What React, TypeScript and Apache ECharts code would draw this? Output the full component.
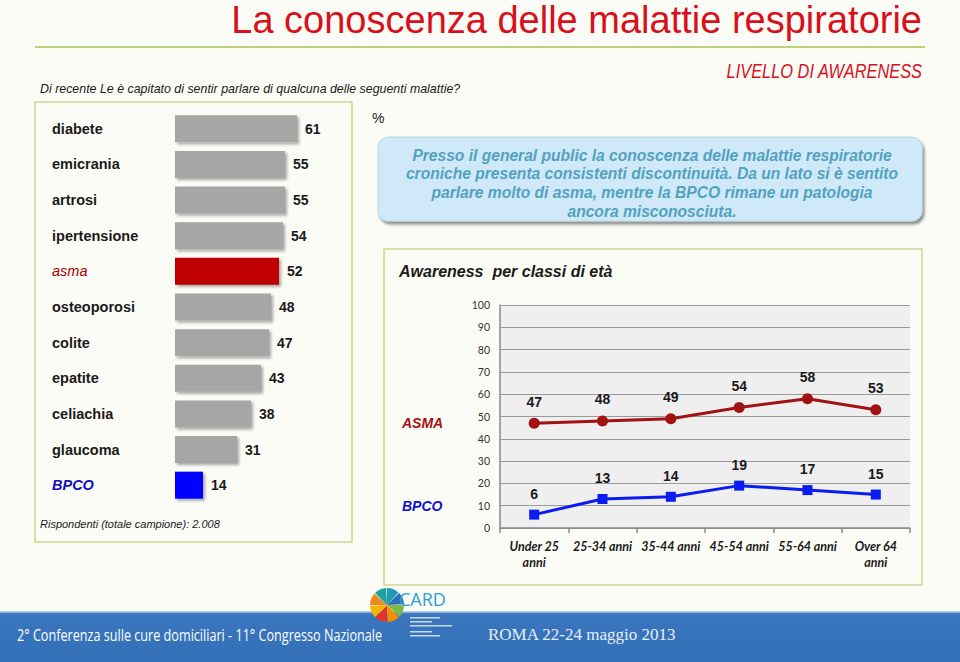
import React, { useEffect, useRef } from "react";
import * as echarts from "echarts";

// ---- Data ----
const diseases = [
  "diabete",
  "emicrania",
  "artrosi",
  "ipertensione",
  "asma",
  "osteoporosi",
  "colite",
  "epatite",
  "celiachia",
  "glaucoma",
  "BPCO",
];
const awarenessPct = [61, 55, 55, 54, 52, 48, 47, 43, 38, 31, 14];

const ageClasses = [
  "Under 25\nanni",
  "25-34 anni",
  "35-44 anni",
  "45-54 anni",
  "55-64 anni",
  "Over 64\nanni",
];
const asmaByAge = [47, 48, 49, 54, 58, 53];
const bpcoByAge = [6, 13, 14, 19, 17, 15];

const summaryLines = [
  "Presso il general public la conoscenza delle malattie respiratorie",
  "croniche presenta consistenti discontinuità. Da un lato si è sentito",
  "parlare molto di asma, mentre la BPCO rimane un patologia",
  "ancora misconosciuta.",
];

const RED = "#c00000";
const BLUE = "#0000ff";
const GRAY = "#a6a6a6";
const BOX = "#c9d68e";

function colorFor(name: string) {
  if (name === "asma") return RED;
  if (name === "BPCO") return BLUE;
  return GRAY;
}

export default function App() {
  const ref = useRef<HTMLDivElement>(null);

  useEffect(() => {
    document.body.style.margin = "0";
    const chart = echarts.init(ref.current!, null, {
      renderer: "svg",
      width: 960,
      height: 662,
    });

    const baseLabel = {
      align: "left",
      fontFamily: "Liberation Sans",
      fontSize: 14.5,
    };
    const diseaseAxis = diseases.map((d) => {
      if (d === "asma")
        return {
          value: d,
          textStyle: { ...baseLabel, color: "#a50000", fontStyle: "italic", fontWeight: "normal" },
        };
      if (d === "BPCO")
        return {
          value: d,
          textStyle: { ...baseLabel, color: "#1010c0", fontStyle: "italic", fontWeight: "bold" },
        };
      return d;
    });

    const logoColors = ["#1f9cb5", "#2d6fb8", "#7cbc45", "#f29100", "#e6332a", "#f7b500", "#f08a24", "#1aa2a0"];
    const logoSectors: any[] = logoColors.map((c, i) => ({
      type: "sector",
      shape: {
        cx: 387,
        cy: 605,
        r0: 0,
        r: 17,
        startAngle: (i * Math.PI * 2) / logoColors.length - Math.PI / 2,
        endAngle: ((i + 1) * Math.PI * 2) / logoColors.length - Math.PI / 2 - 0.05,
      },
      style: { fill: c },
      z: 20,
    }));

    const option: any = {
      animation: false,
      backgroundColor: "#fcfcf7",
      grid: [
        { left: 175, top: 111, width: 200, height: 392 },
        {
          left: 500,
          top: 305,
          width: 410,
          height: 223,
          show: true,
          backgroundColor: "#efefef",
          borderWidth: 0,
        },
      ],
      xAxis: [
        { gridIndex: 0, type: "value", min: 0, max: 100, show: false },
        {
          gridIndex: 1,
          type: "category",
          data: ageClasses,
          boundaryGap: true,
          axisLine: { show: true, lineStyle: { color: "#8a8a8a", width: 1.5 } },
          axisTick: { show: true, length: 5, lineStyle: { color: "#8a8a8a", width: 1.5 } },
          axisLabel: {
            interval: 0,
            margin: 10,
            fontFamily: "Lato",
            fontStyle: "italic",
            fontWeight: "bold",
            fontSize: 12.5,
            lineHeight: 16,
            color: "#1a1a1a",
          },
        },
      ],
      yAxis: [
        {
          gridIndex: 0,
          type: "category",
          data: diseaseAxis,
          inverse: true,
          axisLine: { show: false },
          axisTick: { show: false },
          axisLabel: {
            align: "left",
            margin: 123,
            fontFamily: "Liberation Sans",
            fontSize: 14.5,
            fontWeight: "bold",
            color: "#1a1a1a",
          },
        },
        {
          gridIndex: 1,
          type: "value",
          min: 0,
          max: 100,
          interval: 10,
          axisLine: { show: true, lineStyle: { color: "#8a8a8a", width: 1.5 } },
          axisTick: { show: false },
          splitLine: { show: true, lineStyle: { color: "#9a9a9a", width: 1.2 } },
          axisLabel: { fontFamily: "Lato", fontSize: 10.5, color: "#333", margin: 10 },
        },
      ],
      series: [
        {
          type: "bar",
          xAxisIndex: 0,
          yAxisIndex: 0,
          data: awarenessPct,
          barWidth: 27,
          itemStyle: {
            color: (p: any) => colorFor(p.name),
            shadowColor: "rgba(0,0,0,0.35)",
            shadowBlur: 3,
            shadowOffsetX: 2,
            shadowOffsetY: 2,
          },
          label: {
            show: true,
            position: "right",
            distance: 8,
            fontFamily: "Liberation Sans",
            fontSize: 14,
            fontWeight: "bold",
            color: "#1a1a1a",
          },
        },
        {
          name: "ASMA",
          type: "line",
          xAxisIndex: 1,
          yAxisIndex: 1,
          data: asmaByAge,
          symbol: "circle",
          symbolSize: 11,
          lineStyle: { color: "#a31212", width: 3 },
          itemStyle: { color: "#a31212" },
          label: {
            show: true,
            position: "top",
            distance: 9,
            fontFamily: "Liberation Sans",
            fontSize: 14,
            fontWeight: "bold",
            color: "#1a1a1a",
          },
        },
        {
          name: "BPCO",
          type: "line",
          xAxisIndex: 1,
          yAxisIndex: 1,
          data: bpcoByAge,
          symbol: "rect",
          symbolSize: 10,
          lineStyle: { color: "#0a1cf0", width: 3 },
          itemStyle: { color: "#0a1cf0" },
          label: {
            show: true,
            position: "top",
            distance: 9,
            fontFamily: "Liberation Sans",
            fontSize: 14,
            fontWeight: "bold",
            color: "#1a1a1a",
          },
        },
      ],
      graphic: [
        // Title
        {
          type: "text",
          x: 922,
          y: 20,
          z: 10,
          style: {
            text: "La conoscenza delle malattie respiratorie",
            font: "38px 'Liberation Sans'",
            fill: "#d8101c",
            textAlign: "right",
            textVerticalAlign: "middle",
            shadowColor: "rgba(0,0,0,0.35)",
            shadowBlur: 2,
            shadowOffsetX: 2,
            shadowOffsetY: 2,
          },
        },
        {
          type: "line",
          shape: { x1: 35, y1: 47, x2: 925, y2: 47 },
          style: { stroke: "#bfd27c", lineWidth: 2 },
        },
        {
          type: "text",
          x: 922,
          y: 71,
          scaleX: 0.78,
          style: {
            text: "LIVELLO DI AWARENESS",
            font: "italic 21px 'Liberation Sans'",
            fill: "#d8101c",
            textAlign: "right",
            textVerticalAlign: "middle",
            shadowColor: "rgba(0,0,0,0.3)",
            shadowBlur: 1,
            shadowOffsetX: 1,
            shadowOffsetY: 1,
          },
        },
        {
          type: "text",
          x: 40,
          y: 89,
          style: {
            text: "Di recente Le è capitato di sentir parlare di qualcuna delle seguenti malattie?",
            font: "italic 12.4px 'Liberation Sans'",
            fill: "#1a1a1a",
            textVerticalAlign: "middle",
          },
        },
        // Left box
        {
          type: "rect",
          shape: { x: 35, y: 102, width: 317, height: 440 },
          style: { fill: "none", stroke: BOX, lineWidth: 1.5 },
        },
        {
          type: "text",
          x: 40,
          y: 524,
          style: {
            text: "Rispondenti (totale campione): 2.008",
            font: "italic 11px 'Liberation Sans'",
            fill: "#1a1a1a",
            textVerticalAlign: "middle",
          },
        },
        {
          type: "text",
          x: 372,
          y: 118,
          style: {
            text: "%",
            font: "14px 'Liberation Sans'",
            fill: "#1a1a1a",
            textVerticalAlign: "middle",
          },
        },
        // Summary box
        {
          type: "rect",
          shape: { x: 378, y: 137, width: 544, height: 84, r: 10 },
          style: {
            fill: "#cfe9f8",
            stroke: "#b8d8ea",
            lineWidth: 1,
            shadowColor: "rgba(0,0,0,0.45)",
            shadowBlur: 3,
            shadowOffsetX: 2,
            shadowOffsetY: 3,
          },
        },
        ...summaryLines.map((t, i) => ({
          type: "text",
          x: 652,
          y: 155 + i * 18.7,
          z: 5,
          style: {
            text: t,
            font: "italic bold 15.6px 'Liberation Sans'",
            fill: "#52a2bf",
            textAlign: "center",
            textVerticalAlign: "middle",
          },
        })),
        // Line chart box
        {
          type: "rect",
          shape: { x: 384, y: 249, width: 538, height: 336 },
          style: { fill: "none", stroke: BOX, lineWidth: 1.5 },
        },
        {
          type: "text",
          x: 399,
          y: 271,
          style: {
            text: "Awareness  per classi di età",
            font: "italic bold 16px 'Liberation Sans'",
            fill: "#1a1a1a",
            textVerticalAlign: "middle",
          },
        },
        {
          type: "text",
          x: 402,
          y: 423,
          style: {
            text: "ASMA",
            font: "italic bold 14px 'Liberation Sans'",
            fill: "#a31212",
            textVerticalAlign: "middle",
          },
        },
        {
          type: "text",
          x: 402,
          y: 506,
          style: {
            text: "BPCO",
            font: "italic bold 14px 'Liberation Sans'",
            fill: "#1010d0",
            textVerticalAlign: "middle",
          },
        },
        // Footer
        {
          type: "rect",
          shape: { x: 0, y: 612, width: 960, height: 50 },
          style: {
            fill: new echarts.graphic.LinearGradient(0, 0, 0, 1, [
              { offset: 0, color: "#4a83c6" },
              { offset: 0.08, color: "#3a75bd" },
              { offset: 1, color: "#3370b8" },
            ]),
          },
        },
        {
          type: "line",
          shape: { x1: 0, y1: 612, x2: 960, y2: 612 },
          style: { stroke: "#9cc0e6", lineWidth: 1.5 },
        },
        {
          type: "text",
          x: 17,
          y: 635,
          scaleX: 0.79,
          style: {
            text: "2° Conferenza sulle cure domiciliari - 11° Congresso Nazionale",
            font: "16px 'Open Sans'",
            fill: "#ffffff",
            textVerticalAlign: "middle",
          },
        },
        {
          type: "text",
          x: 488,
          y: 634,
          style: {
            text: "ROMA 22-24 maggio 2013",
            font: "17px 'Liberation Serif'",
            fill: "#e8eef8",
            textVerticalAlign: "middle",
          },
        },
        ...logoSectors,
        {
          type: "text",
          x: 399,
          y: 599,
          z: 20,
          style: {
            text: "CARD",
            font: "18px 'Open Sans'",
            fill: "#2b9fd8",
            textVerticalAlign: "middle",
          },
        },
        ...[617, 621, 625, 631, 635].map((y, i) => ({
          type: "rect",
          shape: { x: 410, y, width: i === 2 ? 42 : i % 2 === 0 ? 30 : 22, height: 1.5 },
          style: { fill: "rgba(235,242,250,0.8)" },
          z: 20,
        })),
      ],
    };

    chart.setOption(option);
    return () => chart.dispose();
  }, []);

  return (
    <div
      ref={ref}
      style={{ width: 960, height: 662, position: "absolute", left: 0, top: 0 }}
    />
  );
}
